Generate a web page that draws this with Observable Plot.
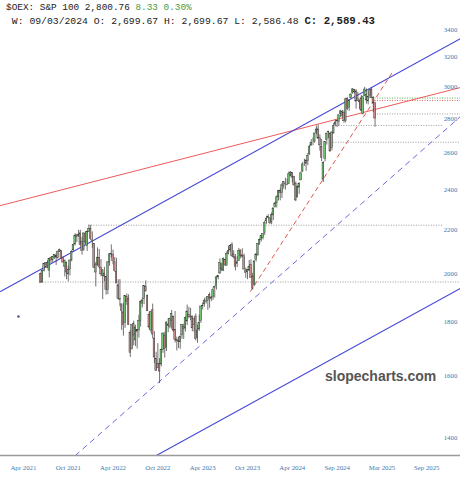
<!DOCTYPE html>
<html><head><meta charset="utf-8">
<script src="https://cdn.jsdelivr.net/npm/d3@7"></script>
<script src="https://cdn.jsdelivr.net/npm/@observablehq/plot@0.6"></script>
<style>
body{margin:0;background:#fff;}
#wrap{position:relative;width:460px;height:480px;overflow:hidden;background:#fff;}
#chart{position:absolute;left:0;top:0;}
.hdr{position:absolute;font-family:"Liberation Mono",monospace;white-space:pre;color:#222;line-height:1;}
#wm{position:absolute;left:325px;top:369px;font-family:"Liberation Sans",Arial,sans-serif;font-weight:bold;font-size:14px;color:#555;line-height:1;}
</style></head><body>
<div id="wrap">
<div id="chart"></div>
<div class="hdr" style="left:6px;top:3px;font-size:9.4px;">$OEX: S&amp;P 100 2,800.76 <span style="color:#4e9a3e">8.33 0.30%</span></div>
<div class="hdr" style="left:6px;top:15.5px;font-size:9.75px;"> W: 09/03/2024 O: 2,699.67 H: 2,699.67 L: 2,586.48 <b style="font-size:10.7px">C: 2,589.43</b></div>
<div id="wm">slopecharts.com</div>
</div>
<script>
// weekly bars [open, high, low, close], first week starting 2021-06-14
const firstWeek = "2021-06-14";
const bars2021 = [
[1997,2001,1958,1958],[1961,2014,1958,2012],[2010,2043,2006,2041],[2039,2046,2022,2045],
[2047,2056,2022,2025],[2011,2066,1981,2065],[2067,2073,2043,2057],[2058,2074,2048,2072],
[2068,2083,2062,2082],[2079,2088,2035,2070],[2069,2099,2063,2097],[2095,2109,2094,2104],
[2100,2100,2064,2064],[2067,2073,2045,2048],[2029,2059,1985,2054],[2047,2050,1973,2004],
[1996,2033,1964,2015],[2017,2058,1989,2057],[2058,2102,2051,2095],[2103,2129,2096,2128],
[2130,2180,2123,2170],[2172,2178,2139,2164],[2171,2196,2163,2175],[2182,2197,2123,2127],
[2143,2163,2081,2101],[2106,2182,2098,2182],[2181,2190,2130,2139],[2124,2195,2098,2188],
[2187,2221,2187,2202]
];
const bars2022 = [
[2203,2221,2149,2156],[2146,2189,2112,2149],[2131,2131,2022,2023],[2004,2048,1942,2039],
[2038,2114,2031,2070],[2068,2107,2020,2028],[2025,2061,1986,1996],[1988,2017,1889,2013],
[1999,2027,1964,1987],[1986,1986,1908,1930],[1929,2049,1910,2049],[2048,2087,2031,2085],
[2084,2128,2068,2087],[2083,2104,2038,2056],[2049,2070,2006,2012],[2008,2067,1955,1957],
[1949,1973,1891,1892],[1892,1973,1860,1888],[1870,1870,1767,1843],[1838,1873,1745,1787],
[1795,1905,1775,1904],[1901,1913,1866,1882],[1893,1909,1786,1787],[1758,1766,1666,1683],
[1698,1789,1693,1788],[1791,1803,1709,1748],[1729,1787,1706,1778],[1769,1770,1697,1762],
[1767,1826,1738,1803],[1804,1884,1780,1879],[1871,1896,1856,1886],[1891,1947,1869,1947],
[1943,1968,1920,1924],[1905,1908,1842,1842],[1827,1840,1770,1778],[1767,1842,1757,1838],
[1846,1871,1735,1751],[1736,1762,1645,1666],[1661,1685,1616,1617],[1628,1717,1626,1642],
[1642,1662,1574,1616],[1641,1697,1632,1693],[1693,1757,1681,1755],[1747,1760,1664,1697],
[1701,1801,1688,1797],[1790,1813,1758,1784],[1781,1815,1773,1812],[1803,1845,1772,1832],
[1820,1823,1760,1766],[1769,1841,1719,1730],[1730,1741,1690,1726],[1726,1741,1699,1724]
];
const bars2023 = [
[1722,1746,1696,1741],[1748,1790,1733,1788],[1779,1791,1733,1772],[1774,1819,1761,1816],
[1802,1867,1786,1841],[1827,1858,1812,1820],[1821,1854,1805,1819],[1821,1823,1762,1775],
[1788,1814,1760,1813],[1821,1831,1727,1734],[1739,1788,1718,1767],[1771,1826,1763,1795],
[1804,1862,1794,1861],[1862,1876,1847,1864],[1870,1895,1859,1883],[1882,1897,1871,1881],
[1884,1902,1846,1901],[1909,1917,1854,1894],[1898,1902,1881,1893],[1898,1938,1886,1928],
[1937,1946,1896,1943],[1945,1986,1929,1983],[1983,1990,1972,1990],[2000,2064,1995,2046],
[2040,2042,2008,2018],[2012,2069,2008,2065],[2060,2063,2030,2037],[2034,2097,2033,2086],
[2088,2120,2082,2100],[2103,2127,2095,2122],[2127,2138,2071,2078],[2084,2101,2065,2071],
[2071,2084,2011,2028],[2041,2074,2026,2049],[2054,2112,2053,2100],[2102,2104,2064,2077],
[2080,2110,2069,2074],[2076,2086,2016,2017],[2013,2024,1979,2003],[2005,2017,1973,2016],
[2012,2057,2009,2029],[2036,2060,1981,1981],[1984,2000,1929,1935],[1950,2056,1944,2053],
[2060,2090,2050,2084],[2080,2134,2077,2131],[2129,2156,2129,2152],[2150,2169,2141,2169],
[2159,2181,2151,2178],[2184,2241,2172,2232],[2240,2265,2225,2253],[2256,2272,2252,2261]
];
const bars2024 = [
[2254,2258,2224,2231],[2234,2281,2224,2272],[2269,2305,2244,2304],[2310,2336,2305,2328],
[2329,2368,2306,2360],[2360,2394,2341,2393],[2392,2403,2342,2383],[2381,2433,2354,2422],
[2419,2442,2402,2440],[2432,2460,2397,2429],[2423,2455,2420,2426],[2428,2494,2426,2481],
[2474,2496,2467,2490],[2487,2489,2435,2462],[2468,2470,2416,2423],[2431,2440,2338,2344],
[2359,2419,2357,2412],[2410,2436,2375,2431],[2448,2494,2448,2486],[2496,2545,2491,2535],
[2546,2564,2523,2546],[2557,2557,2497,2539],[2552,2596,2528,2583],[2590,2642,2586,2634],
[2640,2675,2639,2656],[2654,2685,2640,2654],[2664,2713,2653,2711],[2714,2755,2704,2735],
[2735,2761,2677,2681],[2683,2703,2609,2642],[2634,2677,2550,2572],[2452,2550,2437,2544],
[2564,2661,2549,2660],[2673,2714,2644,2710],[2717,2724,2680,2722],[2711,2712,2604,2607],
[2628,2722,2611,2717],[2712,2770,2707,2755],[2764,2791,2752,2777],[2787,2790,2746,2784],
[2782,2824,2755,2820],[2827,2851,2807,2845],[2841,2851,2804,2817],[2835,2849,2772,2784],
[2788,2928,2774,2920],[2924,2931,2850,2859],[2867,2914,2845,2913],[2930,2956,2921,2950],
[2960,2989,2952,2984],[2981,2984,2954,2965],[2971,2982,2858,2906],[2911,2965,2907,2926],
[2901,2915,2856,2912]
];
const bars2025 = [
[2926,2945,2841,2849],[2830,2941,2823,2933],[2941,2997,2940,2983],[2913,2987,2890,2948],
[2907,2971,2885,2935],[2944,2984,2924,2978],[2981,2994,2926,2928],[2929,2937,2837,2894],
[2895,2903,2748,2801]
];

// axis ticks
const yTicks = [1400,1600,1800,2000,2200,2400,2600,2800,3000,3200,3400];
const xTickDates = ["2021-04-05","2021-10-04","2022-04-04","2022-10-03","2023-04-03","2023-10-02","2024-04-01","2024-09-30","2025-03-31","2025-09-29"];
const xTickLabels = ["Apr 2021","Oct 2021","Apr 2022","Oct 2022","Apr 2023","Oct 2023","Apr 2024","Sep 2024","Mar 2025","Sep 2025"];

// drawn trend lines: [date, value] end points
const blueUpper = [["2021-01-02",1923],["2026-02-13",3333]];
const redUpper = [["2021-01-02",2318],["2026-02-13",2996]];
const blueLower = [["2022-09-27",1346.3],["2026-02-13",1936]];
const blueDashed = [["2021-11-02",1346.3],["2026-02-13",2813]];
const redDashed = [["2023-10-14",1923],["2025-05-17",3109]];

// horizontal levels
const greyLevels = [
  {v:1963, from:"2021-06-14", to:"2026-02-13"},
  {v:2221, from:"2021-12-27", to:"2025-12-06"},
  {v:2660, from:"2024-09-15", to:"2026-02-13"},
  {v:2759, from:"2024-09-27", to:"2025-12-06"},
  {v:2829, from:"2025-03-03", to:"2026-02-13"}
];
const greenLevels = [{v:2928, from:"2025-03-03", to:"2026-02-13"}];
const redLevels = [{v:2913, from:"2025-03-03", to:"2026-02-13"}];
const markers = [{date:"2021-03-16", v:1821}];

const parse = d3.utcParse("%Y-%m-%d");
const start = parse(firstWeek);
const bars = [...bars2021, ...bars2022, ...bars2023, ...bars2024, ...bars2025].map((b, i) => ({
  date: d3.utcWeek.offset(start, i), open: b[0], high: b[1], low: b[2], close: b[3]
}));
const up = bars.filter(d => d.close >= d.open);
const down = bars.filter(d => d.close < d.open);
const pts = arr => arr.map(d => ({date: parse(d[0]), v: d[1]}));
const lv = arr => arr.map(d => ({v: d.v, from: parse(d.from), to: parse(d.to)}));
const yMin = 1346.3, yMax = 3620;
const tickDates = xTickDates.map(parse);
const labelOf = new Map(tickDates.map((d, i) => [+d, xTickLabels[i]]));
const bodyX1 = d => d3.utcHour.offset(d.date, -76);
const bodyX2 = d => d3.utcHour.offset(d.date, 76);

const chart = Plot.plot({
  width: 460, height: 480,
  marginTop: 0, marginBottom: 25, marginLeft: 0, marginRight: 0,
  style: {background: "transparent", fontFamily: "'Liberation Serif', 'DejaVu Serif', serif"},
  x: {type: "utc", domain: [parse("2021-01-02"), parse("2026-02-13")]},
  y: {type: "log", domain: [yMin, yMax]},
  marks: [
    Plot.ruleY(lv(greyLevels), {y: "v", x1: "from", x2: "to", stroke: "#9c9c9c", strokeWidth: 1, strokeDasharray: "1,1.5"}),
    Plot.ruleY(lv(greenLevels), {y: "v", x1: "from", x2: "to", stroke: "#55b04a", strokeWidth: 1, strokeDasharray: "1,1.5"}),
    Plot.ruleY(lv(redLevels), {y: "v", x1: "from", x2: "to", stroke: "#e0605a", strokeWidth: 1, strokeDasharray: "1,1.5"}),
    Plot.line(pts(redUpper), {x: "date", y: "v", stroke: "#ee5a5a", strokeWidth: 1}),
    Plot.line(pts(blueUpper), {x: "date", y: "v", stroke: "#4848d8", strokeWidth: 1.1}),
    Plot.line(pts(blueLower), {x: "date", y: "v", stroke: "#4848d8", strokeWidth: 1.1}),
    Plot.line(pts(blueDashed), {x: "date", y: "v", stroke: "#6a6ae0", strokeWidth: 1, strokeDasharray: "5,5"}),
    Plot.line(pts(redDashed), {x: "date", y: "v", stroke: "#e2574f", strokeWidth: 1, strokeDasharray: "4,4"}),
    Plot.ruleX(bars, {x: "date", y1: "low", y2: "high", stroke: "#333", strokeWidth: 0.7}),
    Plot.rect(up, {x1: bodyX1, x2: bodyX2, y1: "open", y2: "close", fill: "#74c274", stroke: "#333", strokeWidth: 0.45}),
    Plot.rect(down, {x1: bodyX1, x2: bodyX2, y1: "open", y2: "close", fill: "#cc8a8a", stroke: "#333", strokeWidth: 0.45}),
    Plot.dot(markers, {x: d => parse(d.date), y: "v", r: 1.3, fill: "#55558a", stroke: "none"}),
    Plot.ruleY([yMin], {stroke: "#9a9a9a", strokeWidth: 1.5}),
    Plot.axisX({ticks: tickDates, tickFormat: d => labelOf.get(+d), tickSize: 0, tickPadding: 9.5, fontSize: 6.8, fill: "#3b78b0"}),
    Plot.axisY({anchor: "right", ticks: yTicks, tickFormat: d => String(d), tickSize: 0, tickPadding: 0, textAnchor: "middle", dx: -10, fontSize: 6.8, fill: "#3b78b0"})
  ]
});
document.getElementById("chart").appendChild(chart);
</script>
</body></html>
